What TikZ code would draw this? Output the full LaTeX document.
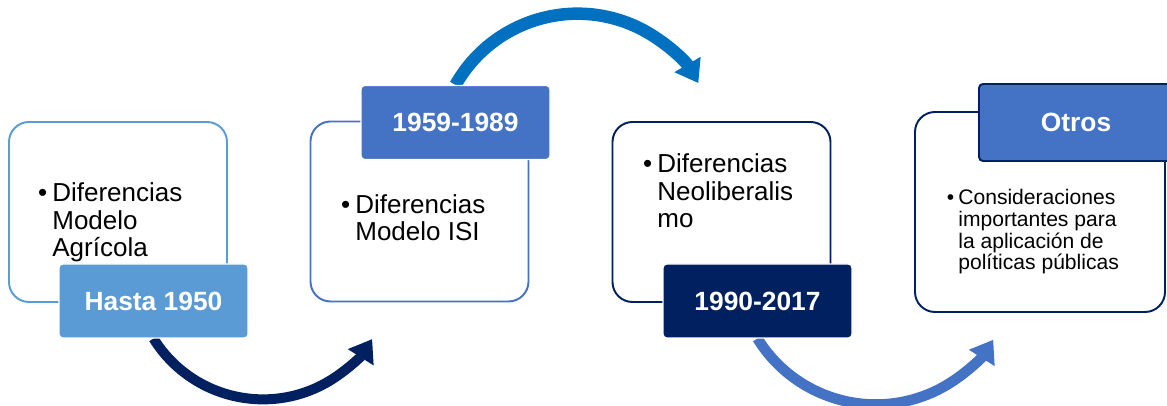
\documentclass[tikz,border=0pt]{standalone}
\usepackage{fontspec}
\setmainfont{Liberation Sans}
\usetikzlibrary{arrows.meta,backgrounds}
\definecolor{SkyBlue}{HTML}{5B9BD5}
\definecolor{MidBlue}{HTML}{4472C4}
\definecolor{Navy}{HTML}{002060}
\definecolor{Ocean}{HTML}{0070C0}
\tikzset{
  panel/.style={draw=#1, line width=1.1pt, fill=white, rounded corners=0.4cm, minimum width=4.36cm, minimum height=3.6cm},
  tag/.style={fill=#1, draw=white, line width=0.6pt, rounded corners=0.08cm, minimum width=3.78cm, minimum height=1.48cm, text=white, font=\fontsize{15}{18}\selectfont\bfseries},
  item/.style={anchor=base west, inner sep=0pt, align=left, font=\fontsize{14.8}{15.9}\selectfont},
  flow/.style={draw=#1, line width=0.21cm, -{Triangle[length=0.43cm, width=0.58cm]}},
}

\begin{document}
\begin{tikzpicture}
\useasboundingbox (0,0) rectangle (23.34,8.12);

% boxes
\node[panel=SkyBlue] (B1) at (2.36,3.88) {};
\node[panel=MidBlue] (B2) at (8.39,3.89) {};
\node[panel=Navy] (B3) at (14.43,3.88) {};
\node[panel=Navy, minimum width=5cm, minimum height=4cm] (B4) at (20.80,3.88) {};

% box texts (anchored at last baseline)
\node[item] (T1) at (1.04,2.98) {\llap{\textbullet\hspace{0.1cm}}Diferencias\\Modelo\\Agrícola};
\node[item] (T2) at (7.10,3.30) {\llap{\textbullet\hspace{0.1cm}}Diferencias\\Modelo ISI};
\node[item] (T3) at (13.14,3.56) {\llap{\textbullet\hspace{0.1cm}}Diferencias\\Neoliberalis\\mo};
\node[item, font=\fontsize{12}{12.5}\selectfont] (T4) at (19.16,2.72) {\llap{\textbullet\hspace{0.08cm}}Consideraciones\\importantes para\\la aplicación de\\políticas públicas};

% period tags
\node[tag=SkyBlue] (L1) at (3.07,2.10) {Hasta 1950};
\node[tag=MidBlue] (L2) at (9.11,5.67) {1959-1989};
\node[tag=Navy] (L3) at (15.15,2.10) {1990-2017};
\node[tag=MidBlue, draw=Navy, line width=1.1pt, minimum width=3.88cm, minimum height=1.54cm] (L4) at (21.52,5.67) {Otros};

% curved arrows
\begin{scope}[on background layer]
\draw[flow=Navy, line width=0.2cm] (L1.south) arc[start angle=211.9, end angle=327.8, radius=2.58];
\draw[flow=Ocean, line width=0.25cm] (L2.north) arc[start angle=150.6, end angle=30.3, radius=2.8];
\draw[flow=MidBlue] (L3.south) arc[start angle=211.7, end angle=327.7, radius=2.78];
\end{scope}
\end{tikzpicture}
\end{document}
